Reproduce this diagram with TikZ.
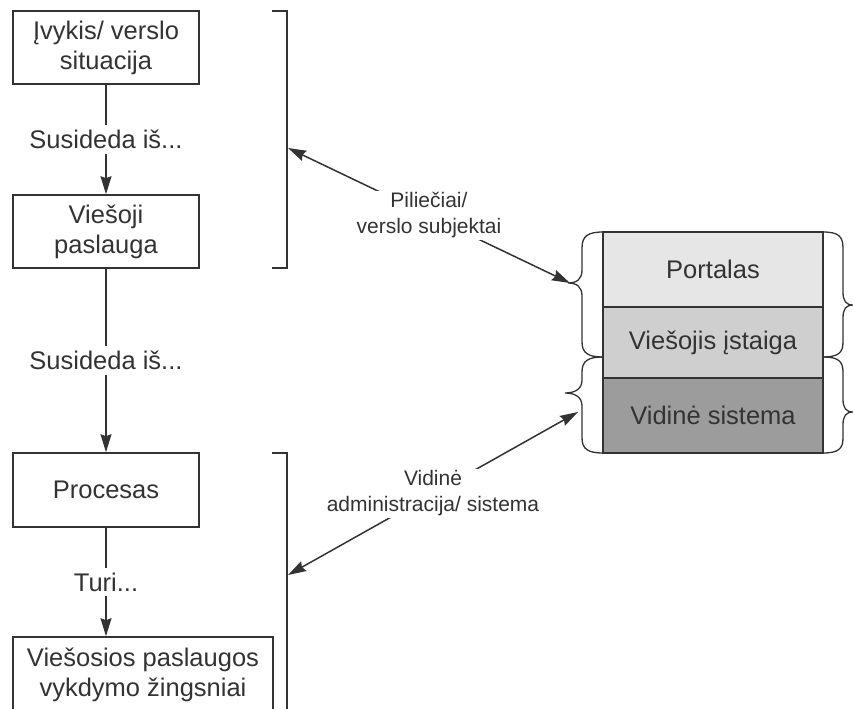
\documentclass[tikz,border=0pt]{standalone}
\usepackage{fontspec}
\setmainfont{Liberation Sans}
\usetikzlibrary{arrows.meta}
\definecolor{ink}{HTML}{333333}
\definecolor{fillA}{HTML}{E6E6E6}
\definecolor{fillB}{HTML}{CFCFCF}
\definecolor{fillC}{HTML}{9C9C9C}
\tikzset{
  boxstyle/.style={draw=ink, line width=1.6pt, fill=white, text=ink, align=center,
    inner sep=0pt, font=\fontsize{25.5}{30}\selectfont},
  layer/.style={draw=ink, line width=1.6pt, text=ink, align=center, inner sep=0pt,
    minimum width=220pt, font=\fontsize{25.5}{30}\selectfont},
  link/.style={draw=ink, line width=1.5pt, -{Stealth[length=18pt,width=11pt,inset=2pt]}},
  twoway/.style={draw=ink, line width=1.5pt,
    {Stealth[length=18pt,width=11pt,inset=2pt]}-{Stealth[length=18pt,width=11pt,inset=2pt]}},
  steplabel/.style={fill=white, text=ink, inner sep=5pt, font=\fontsize{25.5}{30}\selectfont},
  sidelabel/.style={fill=white, text=ink, align=center, inner sep=2pt,
    font=\fontsize{21}{26}\selectfont},
  bracket/.style={draw=ink, line width=1.6pt},
  brace/.style={draw=ink, line width=1.3pt}
}
\begin{document}
\begin{tikzpicture}[x=1pt, y=-1pt]
\useasboundingbox (0,0) rectangle (854,709);
\clip (0,0) rectangle (854,709);

% left column: chain of levels
\node[boxstyle, minimum width=186pt, minimum height=73pt] (event) at (106,47.5)
  {Įvykis/ verslo\\situacija};
\node[boxstyle, minimum width=186pt, minimum height=73pt] (service) at (106,231.5)
  {Viešoji\\paslauga};
\node[boxstyle, minimum width=186pt, minimum height=74pt] (process) at (106,490)
  {Procesas};
\node[boxstyle, minimum width=260pt, minimum height=75pt] (steps) at (143,674.5)
  {Viešosios paslaugos\\vykdymo žingsniai};
\coordinate (stepsIn) at (process.south |- steps.north);

\draw[link] (event) -- node[steplabel] {Susideda iš...} (service);
\draw[link] (service) -- node[steplabel] {Susideda iš...} (process);
\draw[link] (process.south) -- node[steplabel] {Turi...} (stepsIn);

% square brackets grouping the levels
\draw[bracket] (272,11) -- (287,11) -- (287,268) -- (272,268);
\draw[bracket] (272,453) -- (287,453) -- (287,720);
\coordinate (upperGroup) at (288,148);
\coordinate (lowerGroup) at (288,575);

% right column: stacked layers
\node[layer, fill=fillA, minimum height=75pt] (portal) at (713,269.5) {Portalas};
\node[layer, fill=fillB, minimum height=71pt] (agency) at (713,342.5) {Viešojis įstaiga};
\node[layer, fill=fillC, minimum height=75pt] (internal) at (713,415.5) {Vidinė sistema};

% curly braces on the left of the stack
\draw[brace] (603,232) .. controls (588,232) and (582,236) .. (582,248) -- (582,270)
  .. controls (582,279) and (577,283) .. (568,283)
  .. controls (577,283) and (582,287) .. (582,296) -- (582,342)
  .. controls (582,353) and (588,357) .. (603,357);
\draw[brace] (603,357) .. controls (588,357) and (582,361) .. (582,372) -- (582,380)
  .. controls (582,389) and (575,393) .. (565,393)
  .. controls (575,393) and (582,397) .. (582,406) -- (582,438)
  .. controls (582,449) and (588,453) .. (603,453);
% curly braces on the right of the stack
\draw[brace] (823,232) .. controls (838,232) and (843,236) .. (843,248) -- (843,292)
  .. controls (843,301) and (846,305) .. (853,305)
  .. controls (846,305) and (843,309) .. (843,318) -- (843,342)
  .. controls (843,353) and (838,357) .. (823,357);
\draw[brace] (823,357) .. controls (838,357) and (843,361) .. (843,372) -- (843,399)
  .. controls (843,408) and (846,412) .. (853,412)
  .. controls (846,412) and (843,416) .. (843,425) -- (843,438)
  .. controls (843,449) and (838,453) .. (823,453);
\coordinate (upperBrace) at (570,283);
\coordinate (lowerBrace) at (578,412);

% links between the groups and the layers
\draw[twoway] (upperGroup) -- node[sidelabel] {Piliečiai/\\verslo subjektai} (upperBrace);
\draw[twoway] (lowerGroup) -- node[sidelabel] {Vidinė\\administracija/ sistema} (lowerBrace);
\end{tikzpicture}
\end{document}
